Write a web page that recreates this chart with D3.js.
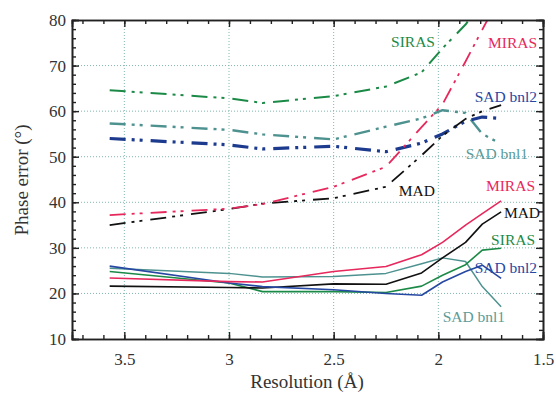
<!DOCTYPE html>
<html>
<head>
<meta charset="utf-8">
<script src="https://cdn.jsdelivr.net/npm/d3@7"></script>
<style>
  body { margin: 0; background: #fff; }
  text { font-family: 'Liberation Serif', 'DejaVu Serif', 'Noto Serif', 'Times New Roman', Times, serif; }
</style>
</head>
<body>
<svg id="chart" width="556" height="395"></svg>
<script>
// resolution bins (Å) shared by all curves
const resolution = [3.57, 3.0, 2.84, 2.5, 2.25, 2.08, 1.98, 1.87, 1.79, 1.70]

// dash-dot-dot curves (upper group)
const sirasTop = [64.6, 62.8, 61.8, 63.3, 65.4, 68.5, 73.8, 79.0, 84.0, null]
const mirasTop = [37.2, 38.6, 39.6, 43.4, 47.8, 56.5, 61.5, 70.9, 77.9, 85.6]
const madTop = [35.0, 38.5, 39.7, 40.9, 43.4, 50.3, 54.6, 58.3, 60.0, 61.3]
const bnl2Top = [54.0, 52.6, 51.7, 52.3, 51.1, 53.0, 55.0, 57.8, 58.7, 58.4]
const bnl1Top = [57.3, 55.9, 54.9, 53.8, 56.6, 58.4, 60.2, 59.6, 55.0, 52.8]

// solid curves (lower group)
const mirasLow = [23.4, 22.6, 22.5, 24.8, 25.9, 28.5, 31.2, 35.0, 37.5, 40.3]
const madLow = [21.6, 21.3, 21.2, 22.1, 22.0, 24.5, 27.8, 31.2, 35.2, 37.9]
const sirasLow = [24.8, 22.3, 20.4, 20.4, 20.2, 21.6, 24.0, 26.3, 29.5, 29.9]
const bnl2Low = [26.0, 22.3, 21.5, 20.8, 20.0, 19.6, 22.5, 24.8, 26.2, 23.3]
const bnl1Low = [25.5, 24.4, 23.6, 23.7, 24.4, 26.5, 27.8, 27.0, 21.5, 17.1]

const xTicks = [3.5, 3, 2.5, 2, 1.5]
const yTicks = [10, 20, 30, 40, 50, 60, 70, 80]

const colors = {
  siras: '#1c8a47',
  miras: '#e6285c',
  mad: '#111111',
  bnl2: '#1c3a8e',
  bnl2Low: '#2748a2',
  bnl1: '#4e9290'
}
const serif = "'Liberation Serif', 'DejaVu Serif', 'Noto Serif', 'Times New Roman', Times, serif"

const svg = d3.select('#chart')
const x = d3.scaleLinear().domain([3.75, 1.5]).range([72, 543])
const y = d3.scaleLinear().domain([10, 80]).range([339, 20])

svg.append('clipPath').attr('id', 'plotClip')
  .append('rect')
  .attr('x', x(3.75)).attr('y', y(80))
  .attr('width', x(1.5) - x(3.75)).attr('height', y(10) - y(80))

// dotted grid
let grid = svg.append('g')
grid.selectAll('line.gx').data([3.5, 3, 2.5, 2]).enter().append('line')
  .attr('x1', d => x(d)).attr('x2', d => x(d))
  .attr('y1', y(80)).attr('y2', y(10))
grid.selectAll('line.gy').data([20, 30, 40, 50, 60, 70]).enter().append('line')
  .attr('x1', x(3.75)).attr('x2', x(1.5))
  .attr('y1', d => y(d)).attr('y2', d => y(d))
grid.selectAll('line')
  .attr('stroke', '#7fb8b2')
  .attr('stroke-width', 1)
  .attr('stroke-dasharray', '1,2')

// curves
const series = [
  {vals: sirasTop, color: colors.siras, width: 2, dash: true},
  {vals: bnl1Top, color: colors.bnl1, width: 2.4, dash: true},
  {vals: bnl2Top, color: colors.bnl2, width: 3.2, dash: true},
  {vals: madTop, color: colors.mad, width: 1.8, dash: true},
  {vals: mirasTop, color: colors.miras, width: 1.8, dash: true},
  {vals: bnl1Low, color: colors.bnl1, width: 1.5, dash: false},
  {vals: sirasLow, color: colors.siras, width: 1.6, dash: false},
  {vals: madLow, color: colors.mad, width: 1.6, dash: false},
  {vals: bnl2Low, color: colors.bnl2Low, width: 1.6, dash: false},
  {vals: mirasLow, color: colors.miras, width: 1.6, dash: false}
]

const line = d3.line()
  .defined(d => d[1] !== null)
  .x(d => x(d[0]))
  .y(d => y(d[1]))

let curves = svg.append('g').attr('clip-path', 'url(#plotClip)')
series.forEach(function (s) {
  curves.append('path')
    .datum(resolution.map((r, i) => [r, s.vals[i]]))
    .attr('d', line)
    .attr('fill', 'none')
    .attr('stroke', s.color)
    .attr('stroke-width', s.width)
    .attr('stroke-dasharray', s.dash ? '16,6,3,5,3,8' : null)
    .attr('stroke-linejoin', 'round')
})

// frame with inward ticks on all sides
const frameColor = '#222'
function styleAxis (g) {
  g.select('.domain').attr('stroke', frameColor).attr('stroke-width', 1.6)
  g.selectAll('.tick line').attr('stroke', frameColor).attr('stroke-width', 1.4)
  g.selectAll('.tick text')
    .style('font-family', serif)
    .style('font-size', '17px')
    .attr('fill', '#333')
}
const xMinor = d3.range(16, 38).map(d => d / 10)
const yMinor = d3.range(12, 80, 2)

svg.append('g').attr('transform', 'translate(0,' + y(10) + ')')
  .call(d3.axisBottom(x).tickValues(xMinor).tickSize(-4).tickFormat(''))
  .call(styleAxis)
svg.append('g').attr('transform', 'translate(0,' + y(10) + ')')
  .call(d3.axisBottom(x).tickValues(xTicks).tickSize(-7).tickPadding(14).tickFormat(d3.format('')))
  .call(styleAxis)
svg.append('g').attr('transform', 'translate(0,' + y(80) + ')')
  .call(d3.axisTop(x).tickValues(xMinor).tickSize(-4).tickFormat(''))
  .call(styleAxis)
svg.append('g').attr('transform', 'translate(0,' + y(80) + ')')
  .call(d3.axisTop(x).tickValues(xTicks).tickSize(-7).tickFormat(''))
  .call(styleAxis)
svg.append('g').attr('transform', 'translate(' + x(3.75) + ',0)')
  .call(d3.axisLeft(y).tickValues(yMinor).tickSize(-4).tickFormat(''))
  .call(styleAxis)
svg.append('g').attr('transform', 'translate(' + x(3.75) + ',0)')
  .call(d3.axisLeft(y).tickValues(yTicks).tickSize(-7).tickPadding(6))
  .call(styleAxis)
svg.append('g').attr('transform', 'translate(' + x(1.5) + ',0)')
  .call(d3.axisRight(y).tickValues(yMinor).tickSize(-4).tickFormat(''))
  .call(styleAxis)
svg.append('g').attr('transform', 'translate(' + x(1.5) + ',0)')
  .call(d3.axisRight(y).tickValues(yTicks).tickSize(-7).tickFormat(''))
  .call(styleAxis)

// axis titles
svg.append('text')
  .text('Resolution (Å)')
  .attr('x', 307).attr('y', 388)
  .attr('text-anchor', 'middle')
  .style('font-family', serif)
  .style('font-size', '19px')
  .attr('fill', '#333')
svg.append('text')
  .text('Phase error (°)')
  .attr('transform', 'translate(28,180) rotate(-90)')
  .attr('text-anchor', 'middle')
  .style('font-family', serif)
  .style('font-size', '19px')
  .attr('fill', '#333')

// curve labels
const labels = [
  {text: 'SIRAS', r: 2.016, v: 74.1, color: colors.siras},
  {text: 'MIRAS', r: 1.528, v: 73.9, color: colors.miras},
  {text: 'SAD bnl2', r: 1.528, v: 62.0, color: colors.bnl2Low},
  {text: 'SAD bnl1', r: 1.571, v: 49.5, color: '#5b9c9a'},
  {text: 'MAD', r: 2.016, v: 41.4, color: colors.mad},
  {text: 'MIRAS', r: 1.538, v: 42.5, color: colors.miras},
  {text: 'MAD', r: 1.514, v: 36.6, color: colors.mad},
  {text: 'SIRAS', r: 1.538, v: 30.6, color: colors.siras},
  {text: 'SAD bnl2', r: 1.528, v: 24.5, color: colors.bnl2Low},
  {text: 'SAD bnl1', r: 1.681, v: 13.7, color: '#5b9c9a'}
]
svg.append('g').selectAll('text').data(labels).enter().append('text')
  .text(d => d.text)
  .attr('x', d => x(d.r))
  .attr('y', d => y(d.v))
  .attr('text-anchor', 'end')
  .style('font-family', serif)
  .style('font-size', '15.5px')
  .attr('fill', d => d.color)
</script>
</body>
</html>
